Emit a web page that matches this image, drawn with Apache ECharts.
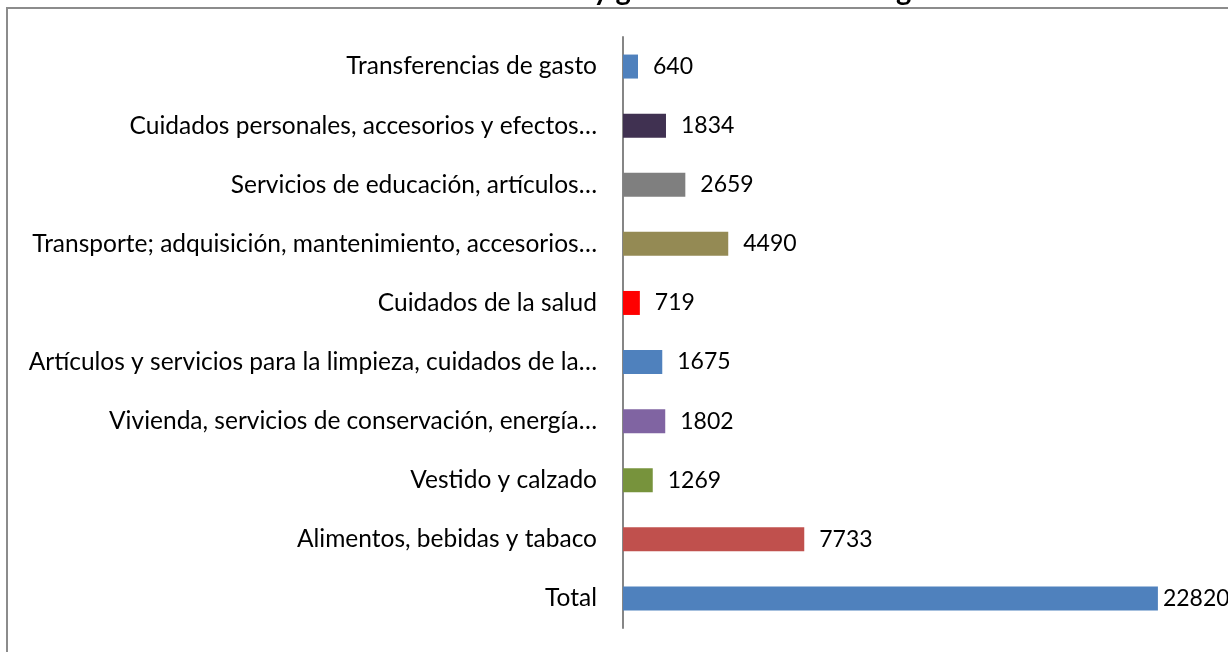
<!DOCTYPE html>
<html>
<head>
<meta charset="utf-8">
<title>Gasto por rubros</title>
<script src="https://cdn.jsdelivr.net/npm/echarts@6/dist/echarts.min.js"></script>
<style>
    html, body { margin: 0; padding: 0; background: #fff; }
    #myChart { width: 1228px; height: 652px; }
</style>
</head>
<body>
<div id="myChart"></div>
<script>
    // categorias de arriba hacia abajo
    let categories = [
        'Transferencias de gasto',
        'Cuidados personales, accesorios y efectos…',
        'Servicios de educación, artículos…',
        'Transporte; adquisición, mantenimiento, accesorios…',
        'Cuidados de la salud',
        'Artículos y servicios para la limpieza, cuidados de la…',
        'Vivienda, servicios de conservación, energía…',
        'Vestido y calzado',
        'Alimentos, bebidas y tabaco',
        'Total'
    ];
    let values = [640, 1834, 2659, 4490, 719, 1675, 1802, 1269, 7733, 22820];
    let colors = ['#4F81BD', '#403151', '#7F7F7F', '#948A54', '#FF0000',
                  '#4F81BD', '#8064A2', '#77933C', '#C0504D', '#4F81BD'];
    let titleText = 'Estructura de rubros y gasto corriente del hogar';

    let myChart = echarts.init(document.getElementById('myChart'));
    let font = 'Lato, "Noto Sans", sans-serif';

    let barData = values.map(function (v, i) {
        let item = { value: v, itemStyle: { color: colors[i] } };
        // el total queda pegado a la barra
        if (i === values.length - 1) {
            item.label = { distance: 5 };
        }
        return item;
    });

    let option = {
        animation: false,
        backgroundColor: '#fff',
        graphic: [
            {
                type: 'rect',
                shape: { x: 7, y: 8, width: 1400, height: 800 },
                style: { fill: 'none', stroke: '#8c8c8c', lineWidth: 2 },
                silent: true
            },
            {
                type: 'text',
                x: 630,
                y: -24,
                style: {
                    text: titleText,
                    font: 'bold 29px ' + font,
                    fill: '#000',
                    textAlign: 'center'
                },
                silent: true
            }
        ],
        grid: {
            left: 623,
            top: 37,
            width: 586,
            height: 591,
            containLabel: false
        },
        xAxis: {
            type: 'value',
            min: 0,
            max: 25000,
            show: false
        },
        yAxis: {
            type: 'category',
            inverse: true,
            data: categories,
            axisLine: { show: true, lineStyle: { color: '#868686', width: 2 } },
            axisTick: { show: false },
            axisLabel: {
                margin: 26,
                color: '#000',
                fontFamily: font,
                fontSize: 24.5
            }
        },
        series: [
            {
                type: 'bar',
                data: barData,
                barWidth: 24,
                label: {
                    show: true,
                    position: 'right',
                    distance: 15,
                    color: '#000',
                    fontFamily: font,
                    fontSize: 23
                }
            }
        ]
    };
    myChart.setOption(option);
</script>
</body>
</html>
